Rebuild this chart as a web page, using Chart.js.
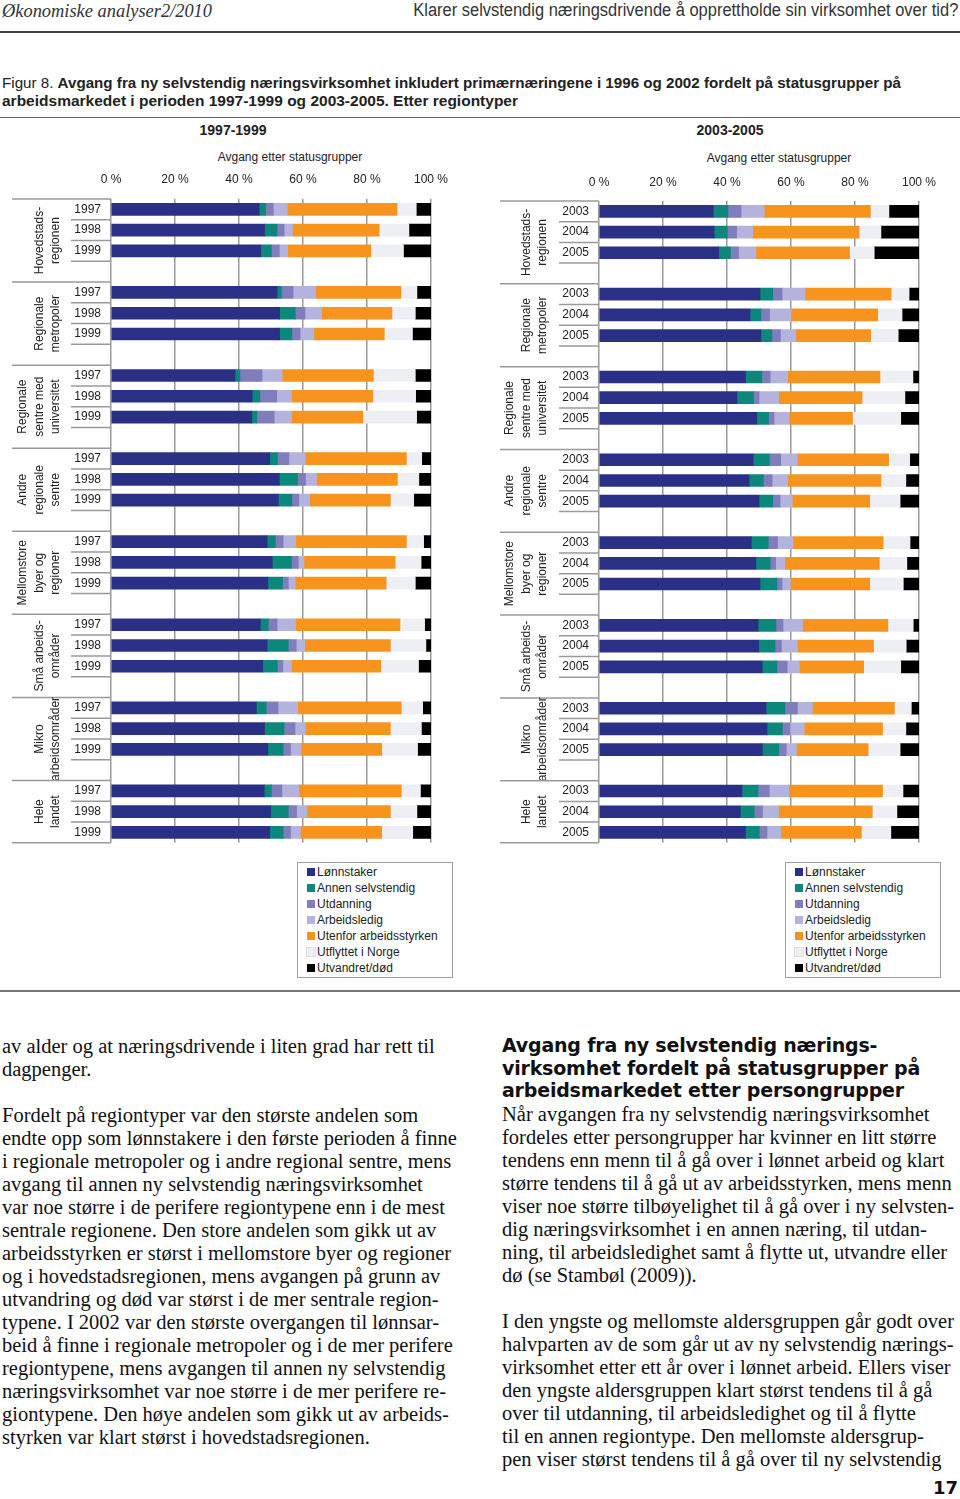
<!DOCTYPE html>
<html lang="no">
<head>
<meta charset="utf-8">
<title>Figur 8</title>
<script src="https://cdn.jsdelivr.net/npm/chart.js@4.4.1/dist/chart.umd.min.js"></script>
<style>
  body { margin: 0; width: 960px; height: 1499px; position: relative; background: #fff; overflow: hidden;
         font-family: 'Liberation Sans', Arial, sans-serif; color: #222; }
  .abs { position: absolute; white-space: nowrap; }
  .rule { position: absolute; left: 0; width: 960px; }
  .fit { display: inline-block; transform-origin: left center; }
  .cond { font-family: 'Liberation Sans Narrow', 'Liberation Sans', sans-serif; }
  .ptitle { font-weight: bold; font-size: 14px; line-height: 16px; transform: translateX(-50%); }
  .atitle { font-size: 12px; line-height: 14px; transform: translateX(-50%); }
  canvas { position: absolute; top: 120px; }
  .legend { position: absolute; top: 862px; width: 154px; height: 114px; border: 1.5px solid #a0a0a0; font-size: 12px; }
  .legend .it { position: absolute; left: 19px; height: 16px; line-height: 16px; white-space: nowrap; }
  .legend .sq { position: absolute; left: -10px; top: 4px; width: 8px; height: 8px; }
  .body { position: absolute; font-family: 'Liberation Serif', 'DejaVu Serif', serif; font-size: 20.5px; line-height: 23px; white-space: nowrap; color: #111; }
  .head { position: absolute; font-family: 'DejaVu Sans', sans-serif; font-weight: bold; font-size: 19px; line-height: 22.5px; white-space: nowrap; color: #111; letter-spacing: -0.2px; }
</style>
</head>
<body>

<div class="abs" style="left:2px;top:1px;"><span class="fit" data-w="210" style="font-family:'Liberation Serif',serif;font-style:italic;font-size:18px;color:#333;">Økonomiske analyser2/2010</span></div>
<div class="abs" style="right:2px;top:0px;"><span class="fit cond" data-w="545" data-origin="right" style="font-size:18px;color:#333;">Klarer selvstendig næringsdrivende å opprettholde sin virksomhet over tid?</span></div>
<div class="rule" style="top:31px;height:2px;background:#444;"></div>

<div class="abs" style="left:2px;top:74px;"><span class="fit cond" data-w="899" style="font-size:15px;">Figur 8. <b>Avgang fra ny selvstendig næringsvirksomhet inkludert primærnæringene i 1996 og 2002 fordelt på statusgrupper på</b></span></div>
<div class="abs" style="left:2px;top:92px;"><span class="fit cond" data-w="516" style="font-size:15px;"><b>arbeidsmarkedet i perioden 1997-1999 og 2003-2005. Etter regiontyper</b></span></div>
<div class="rule" style="top:117px;height:1px;background:#666;"></div>

<div class="abs ptitle" style="left:233px;top:122px;">1997-1999</div>
<div class="abs ptitle" style="left:730px;top:122px;">2003-2005</div>
<div class="abs atitle" style="left:290px;top:150px;">Avgang etter statusgrupper</div>
<div class="abs atitle" style="left:779px;top:151px;">Avgang etter statusgrupper</div>

<canvas id="c1" width="480" height="740" style="left:0;"></canvas>
<canvas id="c2" width="480" height="740" style="left:480px;"></canvas>

<div class="legend" id="leg1" style="left:297px;"></div>
<div class="legend" id="leg2" style="left:785px;"></div>

<div class="rule" style="top:990px;height:2px;background:#777;"></div>

<div class="body" style="left:2px;top:1035px;">av alder og at næringsdrivende i liten grad har rett til<br>dagpenger.<br>&nbsp;<br>Fordelt på regiontyper var den største andelen som<br>endte opp som lønnstakere i den første perioden å finne<br>i regionale metropoler og i andre regional sentre, mens<br>avgang til annen ny selvstendig næringsvirksomhet<br>var noe større i de perifere regiontypene enn i de mest<br>sentrale regionene. Den store andelen som gikk ut av<br>arbeidsstyrken er størst i mellomstore byer og regioner<br>og i hovedstadsregionen, mens avgangen på grunn av<br>utvandring og død var størst i de mer sentrale region-<br>typene. I 2002 var den største overgangen til lønnsar-<br>beid å finne i regionale metropoler og i de mer perifere<br>regiontypene, mens avgangen til annen ny selvstendig<br>næringsvirksomhet var noe større i de mer perifere re-<br>giontypene. Den høye andelen som gikk ut av arbeids-<br>styrken var klart størst i hovedstadsregionen.</div>

<div class="head" style="left:502px;top:1034px;">Avgang fra ny selvstendig nærings-<br>virksomhet fordelt på statusgrupper på<br>arbeidsmarkedet etter persongrupper</div>

<div class="body" style="left:502px;top:1103px;">Når avgangen fra ny selvstendig næringsvirksomhet<br>fordeles etter persongrupper har kvinner en litt større<br>tendens enn menn til å gå over i lønnet arbeid og klart<br>større tendens til å gå ut av arbeidsstyrken, mens menn<br>viser noe større tilbøyelighet til å gå over i ny selvsten-<br>dig næringsvirksomhet i en annen næring, til utdan-<br>ning, til arbeidsledighet samt å flytte ut, utvandre eller<br>dø (se Stambøl (2009)).<br>&nbsp;<br>I den yngste og mellomste aldersgruppen går godt over<br>halvparten av de som går ut av ny selvstendig nærings-<br>virksomhet etter ett år over i lønnet arbeid. Ellers viser<br>den yngste aldersgruppen klart størst tendens til å gå<br>over til utdanning, til arbeidsledighet og til å flytte<br>til en annen regiontype. Den mellomste aldersgrup-<br>pen viser størst tendens til å gå over til ny selvstendig</div>

<div class="abs" style="right:2px;top:1477px;font-family:'DejaVu Sans',sans-serif;font-weight:bold;font-size:18px;color:#111;">17</div>

<script>
'use strict';

const regions = [
  ['Hovedstads-', 'regionen'],
  ['Regionale', 'metropoler'],
  ['Regionale', 'sentre med', 'universitet'],
  ['Andre', 'regionale', 'sentre'],
  ['Mellomstore', 'byer og', 'regioner'],
  ['Små arbeids-', 'områder'],
  ['Mikro', 'arbeidsområder'],
  ['Hele', 'landet']
];
const years1 = ['1997', '1998', '1999'];
const years2 = ['2003', '2004', '2005'];
const tickValues = [0, 20, 40, 60, 80, 100];

const seriesNames = ['Lønnstaker', 'Annen selvstendig', 'Utdanning', 'Arbeidsledig',
  'Utenfor arbeidsstyrken', 'Utflyttet i Norge', 'Utvandret/død'];
const seriesColors = ['#2b3087', '#0b877c', '#807dbd', '#b4b3de', '#f7941d', '#eeeff4', '#000000'];

// 1997-1999, per region 3 years (percent)
const lonn1 =    [46.3, 48.0, 46.8, 51.9, 52.7, 52.7, 38.8, 44.1, 44.0, 49.6, 52.6, 52.3, 48.8, 50.4, 49.0, 46.7, 48.8, 47.4, 45.4, 48.0, 49.0, 47.9, 49.9, 49.6];
const annen1 =   [2.0, 3.9, 3.3, 1.3, 4.9, 3.8, 1.5, 2.4, 1.6, 2.4, 5.7, 4.2, 2.6, 6.0, 4.6, 2.5, 6.6, 4.6, 3.1, 6.1, 4.8, 2.2, 5.5, 4.2];
const utd1 =     [2.4, 2.2, 2.5, 3.7, 3.0, 2.6, 6.9, 5.3, 5.4, 3.6, 2.5, 2.2, 2.4, 2.1, 1.8, 2.7, 2.5, 1.7, 3.7, 3.4, 2.3, 3.3, 2.6, 2.3];
const ledig1 =   [4.4, 2.6, 2.6, 7.0, 5.2, 4.3, 6.3, 4.6, 5.4, 5.1, 3.4, 3.4, 3.9, 1.8, 2.2, 5.8, 2.6, 2.7, 6.1, 3.2, 3.3, 5.3, 3.2, 3.1];
const utenfor1 = [34.3, 27.1, 26.0, 26.7, 22.0, 22.0, 28.5, 25.4, 22.3, 31.6, 25.3, 25.2, 34.6, 28.5, 28.4, 32.6, 26.8, 27.9, 32.4, 26.6, 25.2, 32.0, 26.1, 25.4];
const utfl1 =    [6.0, 9.3, 10.2, 5.0, 7.3, 8.8, 13.1, 13.4, 16.8, 4.8, 6.7, 7.3, 5.4, 8.1, 9.1, 7.7, 11.1, 11.8, 6.7, 9.7, 11.2, 6.0, 8.3, 9.7];
const utv1 =     [4.6, 6.9, 8.6, 4.4, 4.9, 5.8, 4.9, 4.8, 4.5, 2.9, 3.8, 5.4, 2.3, 3.1, 4.9, 2.0, 1.6, 3.9, 2.6, 3.0, 4.2, 3.3, 4.4, 5.7];

// 2003-2005
const lonn2 =    [35.7, 36.0, 37.4, 50.3, 47.2, 50.6, 45.8, 43.1, 49.3, 48.2, 46.9, 50.0, 47.6, 49.0, 50.3, 49.7, 49.9, 51.0, 52.2, 52.5, 51.1, 44.7, 44.2, 45.8];
const annen2 =   [4.6, 4.1, 3.7, 4.0, 3.4, 3.4, 5.1, 5.2, 3.7, 5.0, 4.5, 4.3, 5.3, 4.5, 5.3, 5.6, 5.1, 4.6, 5.9, 4.8, 5.1, 5.0, 4.3, 4.3];
const utd2 =     [4.1, 2.9, 2.5, 2.9, 2.7, 2.7, 2.6, 1.7, 1.7, 3.6, 2.7, 2.3, 2.9, 1.7, 1.6, 2.2, 2.0, 3.2, 3.9, 2.4, 2.3, 3.5, 2.6, 2.4];
const ledig2 =   [7.2, 5.0, 5.4, 7.2, 6.7, 4.8, 5.4, 6.1, 4.7, 5.2, 4.8, 3.8, 4.8, 2.9, 2.6, 6.1, 5.0, 3.8, 4.7, 4.4, 3.2, 6.1, 5.0, 4.3];
const utenfor2 = [33.2, 33.3, 29.3, 26.9, 27.1, 23.4, 28.9, 26.1, 19.8, 28.5, 29.2, 24.2, 28.2, 29.5, 24.8, 26.7, 23.8, 20.1, 25.6, 24.5, 22.4, 29.3, 29.3, 25.2];
const utfl2 =    [5.8, 6.8, 7.7, 5.6, 7.6, 8.6, 10.3, 13.4, 15.1, 6.6, 7.8, 9.5, 8.4, 8.6, 10.5, 7.9, 10.2, 11.6, 5.3, 7.3, 10.0, 6.4, 7.7, 9.2];
const utv2 =     [9.4, 11.9, 14.0, 3.1, 5.3, 6.5, 1.9, 4.4, 5.7, 2.9, 4.1, 5.9, 2.8, 3.8, 4.9, 1.8, 4.0, 5.7, 2.4, 4.1, 5.9, 5.0, 6.9, 8.8];

const FONT = "'Liberation Sans', Arial, sans-serif";

// scale the header/caption lines to the widths in the original
document.querySelectorAll('.fit').forEach(el => {
  const w = el.getBoundingClientRect().width;
  if (el.dataset.origin === 'right') el.style.transformOrigin = 'right center';
  el.style.transform = `scaleX(${el.dataset.w / w})`;
});

// years with an empty spacer row between regions
function buildLabels(years) {
  const out = [];
  regions.forEach((r, g) => {
    out.push(...years);
    if (g < regions.length - 1) out.push('');
  });
  return out;
}
function withGaps(values) {
  const out = [];
  regions.forEach((r, g) => {
    out.push(...values.slice(g * 3, g * 3 + 3));
    if (g < regions.length - 1) out.push(null);
  });
  return out;
}

const frame = {
  id: 'frame',
  afterDraw(chart, args, opts) {
    const { ctx, chartArea } = chart;
    const ys = chart.scales.y;
    const half = (ys.getPixelForValue(1) - ys.getPixelForValue(0)) / 2;
    const ax = chartArea.left;
    ctx.save();
    ctx.strokeStyle = '#9a9a9a';
    ctx.lineWidth = 1.5;
    const hline = (x0, y) => {
      ctx.beginPath(); ctx.moveTo(x0, y); ctx.lineTo(ax, y); ctx.stroke();
    };
    ctx.fillStyle = '#222';
    ctx.font = '12px ' + FONT;
    ctx.textAlign = 'center';
    ctx.textBaseline = 'middle';
    regions.forEach((lines, g) => {
      const first = g * 4;
      const last = g === regions.length - 1;
      const top = ys.getPixelForValue(first) - half;
      hline(opts.groupX, top);
      hline(opts.yearX, ys.getPixelForValue(first + 1) - half);
      hline(opts.yearX, ys.getPixelForValue(first + 2) - half);
      const end = ys.getPixelForValue(first + 2) + half;
      hline(last ? opts.groupX : opts.yearX, end);
      const cy = top + (last ? 3 : 4) * half;
      lines.forEach((txt, i) => {
        const x = opts.lastLineX - (lines.length - 1 - i) * 16.5;
        ctx.save();
        ctx.translate(x, cy);
        ctx.rotate(-Math.PI / 2);
        ctx.fillText(txt, 0, 0);
        ctx.restore();
      });
    });
    ctx.restore();
  }
};

function makeChart(id, years, cols, cfg) {
  return new Chart(document.getElementById(id), {
    type: 'bar',
    data: {
      labels: buildLabels(years),
      datasets: seriesNames.map((name, i) => ({
        label: name,
        data: withGaps(cols[i]),
        backgroundColor: seriesColors[i],
        borderWidth: 0,
        barThickness: 12
      }))
    },
    options: {
      indexAxis: 'y',
      responsive: false,
      animation: false,
      layout: { padding: { top: 0, bottom: 7, left: 0, right: cfg.right } },
      scales: {
        x: {
          position: 'top',
          stacked: true,
          min: 0,
          max: 100,
          afterBuildTicks: s => { s.ticks = tickValues.map(v => ({ value: v })); },
          afterFit: s => { s.height = cfg.top; },
          grid: { color: '#9a9a9a', lineWidth: 1.5, drawTicks: false },
          border: { display: false },
          ticks: {
            padding: cfg.tickPad,
            color: '#222',
            font: { family: FONT, size: 12 },
            callback: v => v + ' %'
          }
        },
        y: {
          stacked: true,
          afterFit: s => { s.width = cfg.axisX; },
          grid: { display: false, drawTicks: false },
          border: { display: false },
          ticks: {
            autoSkip: false,
            padding: 10,
            color: '#222',
            font: { family: FONT, size: 12 }
          }
        }
      },
      plugins: {
        legend: { display: false },
        tooltip: { enabled: false },
        frame: { groupX: cfg.groupX, yearX: cfg.yearX, lastLineX: cfg.lastLineX }
      }
    },
    plugins: [frame]
  });
}

makeChart('c1', years1, [lonn1, annen1, utd1, ledig1, utenfor1, utfl1, utv1],
  { top: 79, right: 49, axisX: 111, tickPad: 12, groupX: 12, yearX: 71, lastLineX: 56 });
makeChart('c2', years2, [lonn2, annen2, utd2, ledig2, utenfor2, utfl2, utv2],
  { top: 81, right: 41, axisX: 119, tickPad: 11, groupX: 20, yearX: 79, lastLineX: 63 });

// legends below each panel
['leg1', 'leg2'].forEach(id => {
  const box = document.getElementById(id);
  seriesNames.forEach((name, i) => {
    const it = document.createElement('div');
    it.className = 'it';
    it.style.top = (1 + i * 16) + 'px';
    it.innerHTML = `<span class="sq" style="background:${seriesColors[i]};${i === 5 ? 'outline:1px solid #ddd;' : ''}"></span>${name}`;
    box.appendChild(it);
  });
});
</script>
</body>
</html>
